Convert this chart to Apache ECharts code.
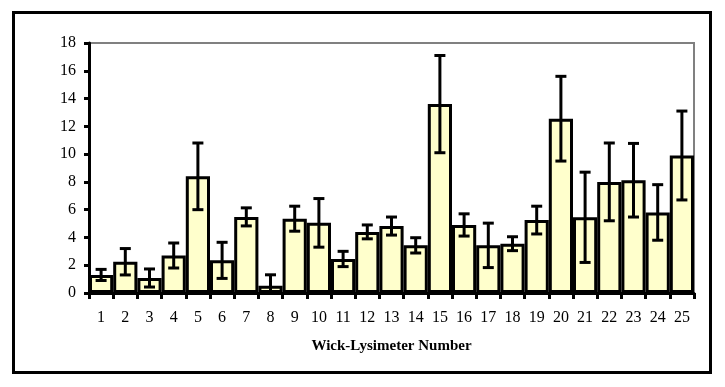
<!DOCTYPE html>
<html><head><meta charset="utf-8">
<script src="https://cdn.jsdelivr.net/npm/echarts@6/dist/echarts.min.js"></script>
<style>html,body{margin:0;padding:0;background:#fff}#c{width:725px;height:387px}</style>
</head><body><div id="c"></div>
<script>
const categories = ['1','2','3','4','5','6','7','8','9','10','11','12','13','14','15','16','17','18','19','20','21','22','23','24','25'];
const means = [1.3,2.25,1.08,2.7,8.4,2.35,5.48,0.53,5.35,5.05,2.45,4.4,4.82,3.43,13.6,4.9,3.43,3.55,5.25,12.55,5.45,8.0,8.12,5.8,9.9];
const errors = [0.4,0.95,0.65,0.9,2.4,1.3,0.65,0.78,0.9,1.75,0.55,0.5,0.65,0.55,3.5,0.8,1.6,0.5,1.0,3.05,3.25,2.8,2.65,2.0,3.2];
const yTicks = {min:0, max:18, interval:2};

const errData = means.map((m,i)=>[i, Math.max(0,m-errors[i]), m+errors[i]]);
const font = 'Liberation Serif, Times New Roman, serif';
const chart = echarts.init(document.getElementById('c'));
chart.setOption({
  animation:false,
  grid:{left:89,right:31,top:43,bottom:94,show:true,borderColor:'#808080',borderWidth:2,backgroundColor:'transparent'},
  graphic:[{type:'rect',shape:{x:13.5,y:12.5,width:697,height:360},style:{fill:'none',stroke:'#000',lineWidth:3},z:-1}],
  xAxis:{type:'category',data:categories,boundaryGap:true,
    name:'Wick-Lysimeter Number',nameLocation:'middle',nameGap:46,
    nameTextStyle:{fontFamily:font,fontWeight:'bold',fontSize:15,color:'#000'},
    axisLine:{lineStyle:{color:'#000',width:3}},
    axisTick:{show:true,interval:0,length:6,lineStyle:{color:'#000',width:3}},
    axisLabel:{interval:0,margin:17,fontFamily:font,fontSize:16,color:'#000'},
    splitLine:{show:false}},
  yAxis:{type:'value',min:yTicks.min,max:yTicks.max,interval:yTicks.interval,
    axisLine:{show:true,lineStyle:{color:'#000',width:3}},
    axisTick:{show:true,length:5,lineStyle:{color:'#000',width:3}},
    axisLabel:{margin:13,fontFamily:font,fontSize:16,color:'#000'},
    splitLine:{show:false}},
  series:[
    {type:'bar',data:means,barCategoryGap:'0%',barGap:'0%',
     itemStyle:{color:'#FFFFCC',borderColor:'#000',borderWidth:3},z:2},
    {type:'custom',data:errData,z:5,
     renderItem:function(params,api){
       const x=api.value(0);
       const lo=api.coord([x,api.value(1)]);
       const hi=api.coord([x,api.value(2)]);
       const hw=5.5;
       const st={stroke:'#000',lineWidth:3};
       return {type:'group',children:[
         {type:'line',shape:{x1:hi[0],y1:hi[1],x2:lo[0],y2:lo[1]},style:st},
         {type:'line',shape:{x1:hi[0]-hw,y1:hi[1],x2:hi[0]+hw,y2:hi[1]},style:st},
         {type:'line',shape:{x1:lo[0]-hw,y1:lo[1],x2:lo[0]+hw,y2:lo[1]},style:st}
       ]};
     }}
  ]
});
</script></body></html>
